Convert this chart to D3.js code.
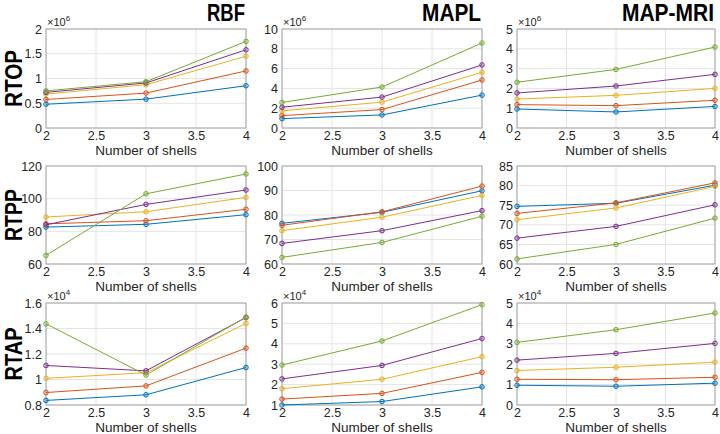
<!DOCTYPE html>
<html>
<head>
<meta charset="utf-8">
<script src="https://cdn.jsdelivr.net/npm/d3@7"></script>
<style>
  body { margin: 0; background: #fff; }
  text { font-family: "Liberation Sans", Arial, Helvetica, sans-serif; fill: #262626; }
</style>
</head>
<body>
<svg id="chart" width="720" height="434"></svg>
<script>
// shells on the x axis
var shells = [2, 3, 4];
var xTicks = [2, 2.5, 3, 3.5, 4];
var methods = ["RBF", "MAPL", "MAP-MRI"];
var measures = ["RTOP", "RTPP", "RTAP"];
// matlab default line colours (series 1..5)
var seriesColors = ["#0072BD", "#D95319", "#EDB120", "#7E2F8E", "#77AC30"];

// values per series (blue, orange, yellow, purple, green) at 2, 3, 4 shells
// RTOP in units of 1e6
var rtopRBF  = [[0.48, 0.583, 0.854], [0.576, 0.705, 1.153], [0.685, 0.875, 1.45], [0.72, 0.91, 1.58], [0.75, 0.935, 1.75]];
var rtopMAPL = [[0.95, 1.32, 3.32], [1.25, 1.86, 4.85], [1.73, 2.61, 5.63], [2.1, 3.12, 6.37], [2.58, 4.14, 8.58]];
var rtopMRI  = [[0.96, 0.81, 1.09], [1.18, 1.13, 1.40], [1.46, 1.65, 2.0], [1.77, 2.12, 2.71], [2.31, 2.96, 4.09]];
// RTPP
var rtppRBF  = [[82.6, 84.3, 90.2], [84.6, 86.5, 93.5], [88.8, 92.0, 100.8], [84.0, 96.5, 105.3], [65.3, 103.0, 115.1]];
var rtppMAPL = [[76.6, 81.1, 89.9], [75.8, 81.3, 91.8], [73.6, 79.1, 88.0], [68.4, 73.6, 81.8], [62.7, 68.8, 79.5]];
var rtppMRI  = [[74.7, 75.5, 80.1], [72.9, 75.6, 80.7], [71.3, 74.3, 79.8], [66.6, 69.6, 75.1], [61.3, 65.0, 71.7]];
// RTAP in units of 1e4
var rtapRBF  = [[0.836, 0.88, 1.094], [0.898, 0.95, 1.246], [1.009, 1.053, 1.44], [1.11, 1.068, 1.486], [1.437, 1.035, 1.49]];
var rtapMAPL = [[1.0, 1.17, 1.89], [1.29, 1.57, 2.6], [1.8, 2.26, 3.37], [2.28, 2.94, 4.26], [2.96, 4.14, 5.92]];
var rtapMRI  = [[0.97, 0.92, 1.07], [1.26, 1.24, 1.36], [1.69, 1.85, 2.1], [2.2, 2.53, 3.02], [3.07, 3.69, 4.51]];

// y tick labels
var yTicksRtopRBF  = [0, 0.5, 1, 1.5, 2];
var yTicksRtopMAPL = [0, 2, 4, 6, 8, 10];
var yTicksRtopMRI  = [0, 1, 2, 3, 4, 5];
var yTicksRtppRBF  = [60, 80, 100, 120];
var yTicksRtppMAPL = [60, 70, 80, 90, 100];
var yTicksRtppMRI  = [60, 65, 70, 75, 80, 85];
var yTicksRtapRBF  = [0.8, 1, 1.2, 1.4, 1.6];
var yTicksRtapMAPL = [1, 2, 3, 4, 5, 6];
var yTicksRtapMRI  = [0, 1, 2, 3, 4, 5];

var panels = [
  { row: 0, col: 0, data: rtopRBF,  ticks: yTicksRtopRBF,  exp: 6 },
  { row: 0, col: 1, data: rtopMAPL, ticks: yTicksRtopMAPL, exp: 6 },
  { row: 0, col: 2, data: rtopMRI,  ticks: yTicksRtopMRI,  exp: 6 },
  { row: 1, col: 0, data: rtppRBF,  ticks: yTicksRtppRBF,  exp: null },
  { row: 1, col: 1, data: rtppMAPL, ticks: yTicksRtppMAPL, exp: null },
  { row: 1, col: 2, data: rtppMRI,  ticks: yTicksRtppMRI,  exp: null },
  { row: 2, col: 0, data: rtapRBF,  ticks: yTicksRtapRBF,  exp: 4 },
  { row: 2, col: 1, data: rtapMAPL, ticks: yTicksRtapMAPL, exp: 4 },
  { row: 2, col: 2, data: rtapMRI,  ticks: yTicksRtapMRI,  exp: 4 }
];

// layout
var colLeft = [46, 282, 517];
var colWidth = [200, 200, 198];
var rowTop = [29, 166, 303];
var rowHeight = [99, 98, 102];
var titleLen = [38, 59, 92];
var rowLabelLen = [57, 52, 53];

var svg = d3.select('#chart');

panels.forEach(function(p) {
  var w = colWidth[p.col], h = rowHeight[p.row];
  var g = svg.append('g').attr('transform', 'translate(' + colLeft[p.col] + ',' + rowTop[p.row] + ')');

  var x = d3.scaleLinear().domain([2, 4]).range([0, w]);
  var y = d3.scaleLinear().domain(d3.extent(p.ticks)).range([h, 0]);

  // grid
  g.selectAll('.vgrid').data(xTicks).enter().append('line')
    .attr('x1', function(d) { return x(d); }).attr('x2', function(d) { return x(d); })
    .attr('y1', 0).attr('y2', h)
    .style('stroke', '#e4e4e4').style('stroke-width', 1);
  g.selectAll('.hgrid').data(p.ticks).enter().append('line')
    .attr('y1', function(d) { return y(d); }).attr('y2', function(d) { return y(d); })
    .attr('x1', 0).attr('x2', w)
    .style('stroke', '#e4e4e4').style('stroke-width', 1);

  // axes
  var xAxis = g.append('g').attr('transform', 'translate(0,' + h + ')')
    .call(d3.axisBottom(x).tickValues(xTicks).tickSize(0).tickPadding(3).tickFormat(function(d) { return d; }));
  var yAxis = g.append('g')
    .call(d3.axisLeft(y).tickValues(p.ticks).tickSize(0).tickPadding(4).tickFormat(function(d) { return d; }));
  [xAxis, yAxis].forEach(function(a) {
    a.select('.domain').remove();
    a.selectAll('text').style('font-size', '12.5px').style('fill', '#262626')
      .style('font-family', '"Liberation Sans", Arial, sans-serif');
  });

  // box
  g.append('rect').attr('width', w).attr('height', h)
    .style('fill', 'none').style('stroke', '#a6a6a6').style('stroke-width', 1);

  // lines and markers
  var line = d3.line()
    .x(function(d, i) { return x(shells[i]); })
    .y(function(d) { return y(d); });

  p.data.forEach(function(vals, i) {
    var c = seriesColors[i];
    g.append('path').datum(vals).attr('d', line)
      .style('fill', 'none').style('stroke', c).style('stroke-width', 1);
    g.selectAll('.m' + i).data(vals).enter().append('circle')
      .attr('cx', function(d, j) { return x(shells[j]); })
      .attr('cy', function(d) { return y(d); })
      .attr('r', 2.3)
      .style('fill', c).style('fill-opacity', 0.25)
      .style('stroke', c).style('stroke-width', 1);
  });

  // exponent label
  if (p.exp !== null) {
    var t = g.append('text').attr('x', 1).attr('y', -3).style('font-size', '11px');
    t.append('tspan').text('\u00d710');
    t.append('tspan').attr('dy', -5).style('font-size', '8px').text(p.exp);
  }

  // x label
  g.append('text').attr('x', w / 2).attr('y', h + 27)
    .attr('text-anchor', 'middle').style('font-size', '13.5px')
    .text('Number of shells');
});

// column titles (condensed by a horizontal scale)
methods.forEach(function(m, i) {
  var t = svg.append('text')
    .attr('text-anchor', 'end')
    .style('font-size', '23px').style('font-weight', 'bold').style('fill', '#000')
    .text(m);
  var k = titleLen[i] / t.node().getComputedTextLength();
  t.attr('transform', 'translate(' + (colLeft[i] + colWidth[i] - 1) + ',21) scale(' + k + ',1)');
});

// row labels
measures.forEach(function(m, i) {
  var t = svg.append('text')
    .attr('text-anchor', 'middle')
    .style('font-size', '24px').style('font-weight', 'bold').style('fill', '#000')
    .text(m);
  var k = rowLabelLen[i] / t.node().getComputedTextLength();
  t.attr('transform', 'translate(22,' + (rowTop[i] + rowHeight[i] / 2) + ') rotate(-90) scale(' + k + ',1)');
});
</script>
</body>
</html>
